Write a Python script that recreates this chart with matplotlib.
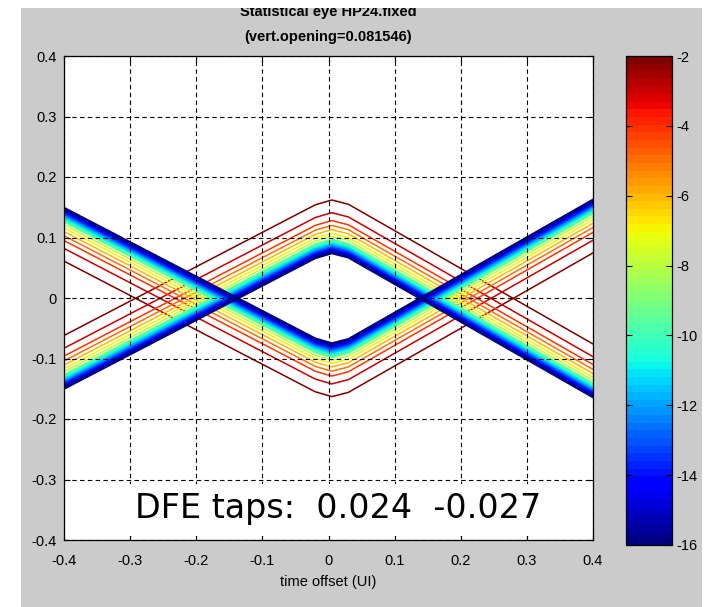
import matplotlib
matplotlib.use("Agg")
import matplotlib.pyplot as plt
import numpy as np
from matplotlib.patches import Rectangle
from matplotlib import cm, colors

plt.rcParams['axes.unicode_minus'] = False
plt.rcParams['font.family'] = ['Liberation Sans', 'DejaVu Sans']

# ---- data ----
title_line1 = "Statistical eye HP24.fixed"
title_line2 = "(vert.opening=0.081546)"
xlabel = "time offset (UI)"
dfe_text = "DFE taps:  0.024  -0.027"

# eye trajectory vertices (inner, most-improbable contour edge)
traj_x = [-0.4, -0.02, 0.005, 0.03, 0.4]
rise_y = [-0.150, 0.066, 0.074, 0.067, -0.164]   # inverted V (contours shifted up)
fall_y = [0.149, -0.067, -0.075, -0.068, 0.1625]  # V (contours shifted down)

# contour levels (log10 probability) and their vertical offset from inner edge
levels = [-2, -3, -4, -5, -6, -7, -8, -9, -9.5, -10, -10.5, -11, -11.5, -12,
          -12.5, -13, -13.5, -14, -14.5, -15, -15.5, -16]
offsets = [0.088, 0.067, 0.054, 0.046, 0.039, 0.033, 0.028, 0.0235, 0.0215,
           0.0195, 0.0175, 0.0158, 0.014, 0.0124, 0.0108, 0.0093, 0.0078,
           0.0062, 0.0047, 0.0031, 0.0016, 0.0]

xticks = [-0.4, -0.3, -0.2, -0.1, 0, 0.1, 0.2, 0.3, 0.4]
yticks = [-0.4, -0.3, -0.2, -0.1, 0, 0.1, 0.2, 0.3, 0.4]
cbar_ticks = [-2, -4, -6, -8, -10, -12, -14, -16]
cmin, cmax = -16, -2

# ---- figure ----
W, H = 715, 607
fig = plt.figure(figsize=(W / 100, H / 100), dpi=100)
fig.patch.set_facecolor('white')
fig.add_artist(Rectangle((21 / W, 0), (702 - 21) / W, 1 - 8 / H,
                         transform=fig.transFigure, facecolor='#cbcbcb',
                         edgecolor='none', zorder=-5))

ax = fig.add_axes([64 / W, 1 - 540 / H, (593 - 64) / W, (540 - 56) / H])
ax.set_facecolor('white')

cmap = plt.get_cmap('jet', 64)
norm = colors.Normalize(vmin=cmin, vmax=cmax)

tx = np.array(traj_x)
ry = np.array(rise_y)
fy = np.array(fall_y)
for lev, off in zip(levels, offsets):
    c = cmap(norm(lev))
    lw = 1.6 if lev <= -9.5 else 1.1
    ax.plot(tx, ry + off, color=c, lw=lw, zorder=2, solid_joinstyle='round')
    ax.plot(tx, fy - off, color=c, lw=lw, zorder=2, solid_joinstyle='round')

ax.set_xlim(-0.4, 0.4)
ax.set_ylim(-0.4, 0.4)
ax.set_xticks(xticks)
ax.set_yticks(yticks)
ax.set_xticklabels(['%g' % v for v in xticks])
ax.set_yticklabels(['%g' % v for v in yticks])
ax.set_axisbelow(False)
ax.grid(True, color='black', lw=0.8, linestyle=(0, (4, 3)))
ax.tick_params(direction='in', top=True, right=True, length=4, width=0.8,
               labelsize=10.5, colors='black')
ax.tick_params(axis='x', pad=10)
ax.tick_params(axis='y', pad=5)
for s in ax.spines.values():
    s.set_linewidth(0.9)
    s.set_color('black')
    s.set_zorder(5)
ax.set_xlabel(xlabel, fontsize=10.5, labelpad=5)

# DFE text box
ax.add_patch(Rectangle((-0.35, -0.394), 0.70, 0.087, facecolor='white',
                       edgecolor='none', zorder=3))
ax.text(-0.293, -0.364, dfe_text, fontsize=24, family='DejaVu Sans',
        ha='left', va='baseline', zorder=4, color='black')

# titles (top line partly hidden by the white strip)
cx = (64 + 593) / 2 / W
fig.text(cx, 1 - 12 / H, title_line1, ha='center', va='center',
         fontsize=10.5, fontweight='bold')
fig.text(cx, 1 - 37 / H, title_line2, ha='center', va='center',
         fontsize=10.5, fontweight='bold')
fig.add_artist(Rectangle((0, 1 - 8 / H), 1, 8 / H, transform=fig.transFigure,
                         facecolor='white', edgecolor='none', zorder=20))

# colorbar
cax = fig.add_axes([626 / W, 1 - 545 / H, (672 - 626) / W, (545 - 56) / H])
sm = cm.ScalarMappable(norm=norm, cmap=cmap)
cb = fig.colorbar(sm, cax=cax, ticks=cbar_ticks)
cb.ax.set_yticklabels(['%d' % v for v in cbar_ticks])
cb.ax.tick_params(direction='in', left=True, right=True, length=4, width=0.8,
                  labelsize=10.5, pad=3)
cb.outline.set_linewidth(0.9)

fig.savefig('out.png', dpi=100, facecolor=fig.get_facecolor())
